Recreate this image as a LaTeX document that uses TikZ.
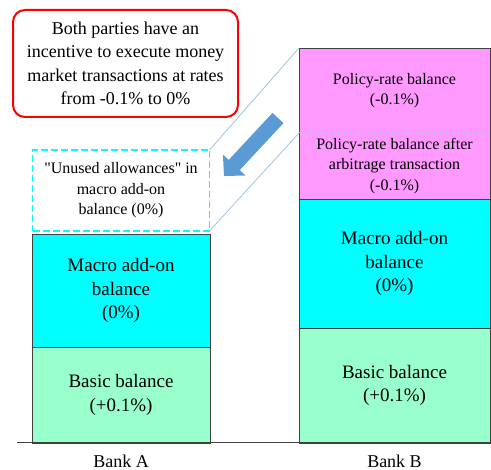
\documentclass[tikz,border=0pt]{standalone}
\usepackage{fontspec}
\setmainfont{Liberation Serif}
\usetikzlibrary{positioning,arrows.meta}
\definecolor{pinkbal}{RGB}{255,153,255}
\definecolor{cyanbal}{RGB}{0,255,255}
\definecolor{greenbal}{RGB}{153,255,204}
\definecolor{edgegray}{RGB}{64,64,64}
\definecolor{arrowblue}{RGB}{91,155,213}
\definecolor{guideblue}{RGB}{157,195,230}

\begin{document}
\begin{tikzpicture}[x=1pt,y=-1pt,
        every node/.style={outer sep=0pt,inner sep=2pt,align=center},
        bal/.style={draw=edgegray,line width=0.8pt},
        bigtext/.style={font=\fontsize{19}{23.5}\selectfont},
        smalltext/.style={font=\fontsize{16}{20.5}\selectfont}]
                \useasboundingbox (0,0) rectangle (491,470);

                % Bank A
                \node[bal,bigtext,fill=greenbal,minimum width=178pt,minimum height=96pt,anchor=south west] (basicA) at (32,443) {Basic balance\\(+0.1\%)};
                \node[bal,bigtext,fill=cyanbal,minimum width=178pt,minimum height=113pt,above=0pt of basicA] (macroA) {Macro add-on\\balance\\(0\%)};
                \node[draw=cyanbal,dash pattern=on 7pt off 3pt,line width=1.8pt,smalltext,minimum width=177pt,minimum height=81pt,above=3pt of macroA] (unused) {\textquotedbl Unused allowances\textquotedbl{} in\\macro add-on\\balance (0\%)};

                % Bank B
                \node[bal,bigtext,fill=greenbal,minimum width=191pt,minimum height=115pt,anchor=south west] (basicB) at (299,443) {Basic balance\\(+0.1\%)};
                \node[bal,bigtext,fill=cyanbal,minimum width=191pt,minimum height=129pt,above=0pt of basicB] (macroB) {Macro add-on\\balance\\(0\%)};
                \node[smalltext,fill=pinkbal,minimum width=191pt,minimum height=66pt,above=0pt of macroB] (arbB) {Policy-rate balance after\\arbitrage transaction\\(-0.1\%)};
                \node[smalltext,fill=pinkbal,minimum width=191pt,minimum height=85pt,above=0pt of arbB] (policyB) {Policy-rate balance\\(-0.1\%)};
                \draw[bal] (arbB.south west) rectangle (policyB.north east);
                \draw[guideblue,dotted,line width=1pt] (policyB.south west) -- (policyB.south east);

                \draw[guideblue,line width=0.8pt] (policyB.north west) -- (unused.north east);
                \draw[guideblue,line width=0.8pt] (arbB.north west) -- (unused.south east);

                % axis and labels
                \coordinate (axisL) at (17,443);
                \coordinate (axisR) at (491,443);
                \draw[edgegray,line width=1pt] (axisL) -- (axisR);
                \foreach \b/\t in {basicA/Bank A,basicB/Bank B}
                    \node[font=\fontsize{18}{21}\selectfont,below=10pt of \b] {\t};

                % message and arrow
                \node[draw=red,line width=2pt,rounded corners=12pt,font=\fontsize{18}{23.3}\selectfont,minimum width=225pt,minimum height=107pt,anchor=north west] (incentive) at (13,10) {Both parties have an\\incentive to execute money\\market transactions at rates\\from -0.1\% to 0\%};
                \coordinate (arrTail) at (278,118);
                \coordinate (arrTip) at (224,176);
                \draw[arrowblue,line width=15pt,-{Triangle[length=15pt,width=30pt]}] (arrTail) -- (arrTip);
            \end{tikzpicture}
\end{document}
